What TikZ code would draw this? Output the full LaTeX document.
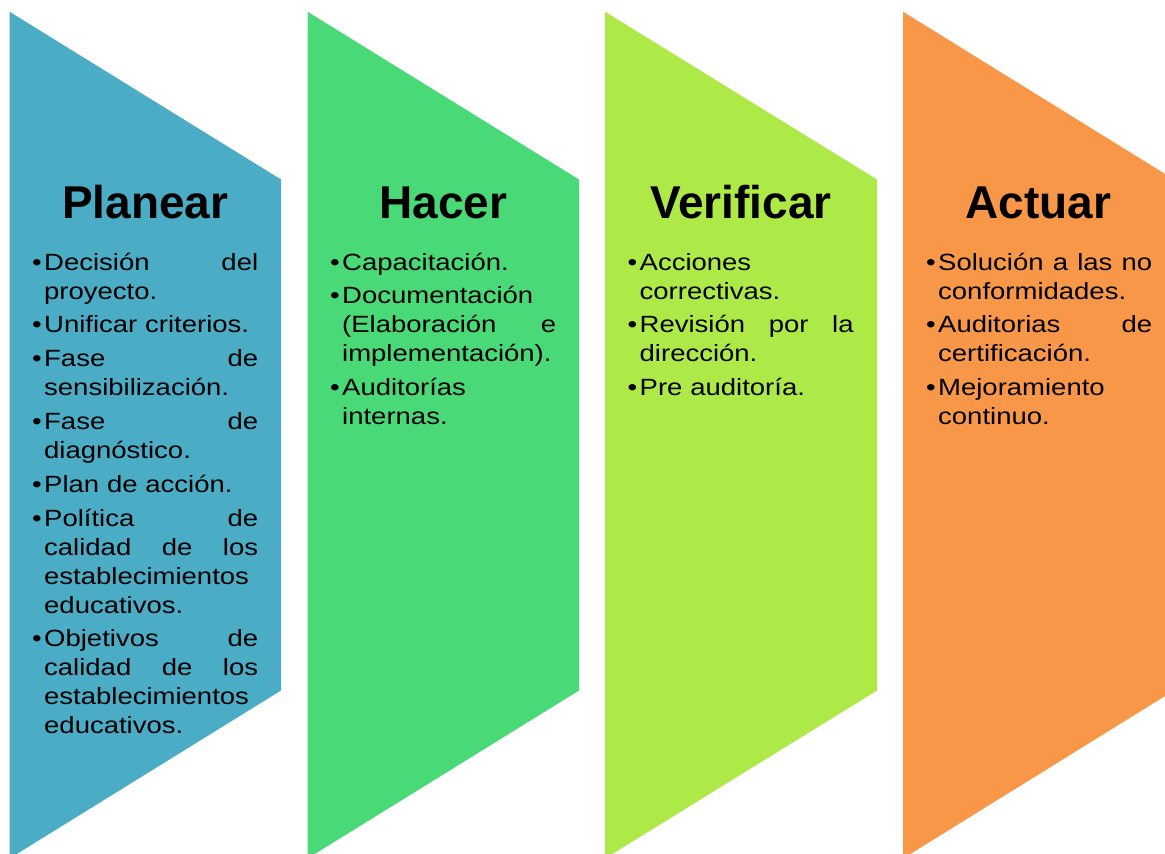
\documentclass[tikz,border=0pt]{standalone}
\usepackage{fontspec}
\setmainfont{Liberation Sans}
\newfontfamily\bodyfont[FakeStretch=1.17]{Liberation Sans}
\newfontfamily\titlefont{Liberation Sans}
\definecolor{cblue}{RGB}{75,172,198}
\definecolor{cgreen}{RGB}{74,217,119}
\definecolor{clime}{RGB}{173,234,71}
\definecolor{corange}{RGB}{247,151,71}
\newcommand{\lbrk}{\unskip\nobreak\hfil\break}
\newcommand{\itm}[1]{\par\hangindent=12pt\hangafter=1\noindent\makebox[12pt][l]{•}#1}
\newcommand{\firstline}{\rule{0pt}{22pt}}
\tikzset{
  colshape/.style={fill=#1, draw=none},
  coltitle/.style={anchor=base, inner sep=0pt, font=\titlefont\bfseries\fontsize{46pt}{50pt}\selectfont},
  colbody/.style={anchor=north west, inner sep=0pt, text width=226pt, font=\bodyfont\fontsize{23.5pt}{29pt}\selectfont}
}
\begin{document}
\begin{tikzpicture}[x=1pt,y=-1pt]
\useasboundingbox (0,0) rectangle (1165,854);
\fill[white] (0,0) rectangle (1165,854);
\clip (0,0) rectangle (1165,854);
% chevron-like columns
\fill[colshape=cblue]   (9.5,11.7)  -- (281,179.5)  -- (281,690.5)  -- (9.5,858.5)  -- cycle;
\fill[colshape=cgreen]  (307.5,11.7) -- (579,179.5) -- (579,690.5) -- (307.5,858.5) -- cycle;
\fill[colshape=clime]   (605,11.7)  -- (877,179.5)  -- (877,690.5)  -- (605,858.5)  -- cycle;
\fill[colshape=corange] (903,11.7)  -- (1174,179.5) -- (1174,690.5) -- (903,858.5)  -- cycle;
% titles
\node[coltitle] (tplan) at (145.3,218) {Planear};
\node[coltitle] (thac)  at (443.3,218) {Hacer};
\node[coltitle] (tver)  at (741,218)   {Verificar};
\node[coltitle] (tact)  at (1038.5,218) {Actuar};
% bodies
\node[colbody] (bplan) at (32,236) {\setlength{\parskip}{4.8pt}%
\itm{\firstline Decisión\hfill del\lbrk proyecto.}
\itm{Unificar criterios.}
\itm{Fase\hfill de\lbrk sensibilización.}
\itm{Fase\hfill de\lbrk diagnóstico.}
\itm{Plan de acción.}
\itm{Política\hfill de\lbrk calidad\hfill de\hfill los\lbrk establecimientos\lbrk educativos.}
\itm{Objetivos\hfill de\lbrk calidad\hfill de\hfill los\lbrk establecimientos\lbrk educativos.}\par};
\node[colbody] (bhac) at (330,236) {\setlength{\parskip}{4.8pt}%
\itm{\firstline Capacitación.}
\itm{Documentación\lbrk (Elaboración\hfill e\lbrk implementación).}
\itm{Auditorías\lbrk internas.}\par};
\node[colbody] (bver) at (627.5,236) {\setlength{\parskip}{4.8pt}%
\itm{\firstline Acciones\lbrk correctivas.}
\itm{Revisión\hfill por\hfill la\lbrk dirección.}
\itm{Pre auditoría.}\par};
\node[colbody] (bact) at (926,236) {\setlength{\parskip}{4.8pt}%
\itm{\firstline Solución\hfill a\hfill las\hfill no\lbrk conformidades.}
\itm{Auditorias\hfill de\lbrk certificación.}
\itm{Mejoramiento\lbrk continuo.}\par};
\end{tikzpicture}
\end{document}
